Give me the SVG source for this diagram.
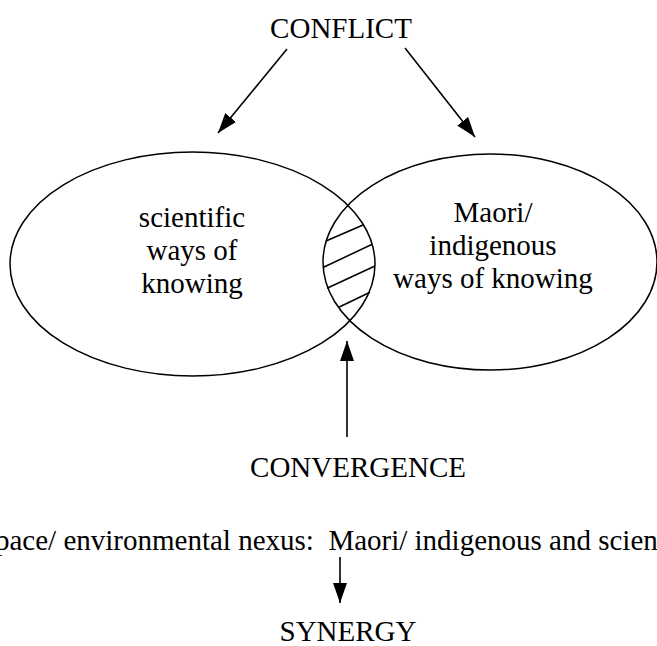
<svg xmlns="http://www.w3.org/2000/svg" width="657" height="646" viewBox="0 0 657 646">
<style>
text{font-family:'Liberation Serif','Times New Roman','DejaVu Serif',serif;font-size:29px;fill:#000;white-space:pre}
.c{text-anchor:middle}
.shape{fill:none;stroke:#000;stroke-width:1.5}
.arr{fill:none;stroke:#000;stroke-width:1.6}
.hatch{stroke:#000;stroke-width:1.5}
</style>
<defs>
<marker id="ah" markerUnits="userSpaceOnUse" markerWidth="20" markerHeight="14" refX="20" refY="7" orient="auto">
<path d="M0,0 L20,7 L0,14 z" fill="#000"/>
</marker>
</defs>
<rect width="657" height="646" fill="#fff"/>
<g id="scientific">
<ellipse class="shape" cx="192.5" cy="264" rx="182.5" ry="112"/>
<text class="c" x="192" y="227" font-family="Liberation Serif, serif">scientific</text>
<text class="c" x="192" y="260" font-family="Liberation Serif, serif">ways of</text>
<text class="c" x="192" y="293" font-family="Liberation Serif, serif">knowing</text>
</g>
<g id="maori">
<ellipse class="shape" cx="490" cy="262" rx="167" ry="108"/>
<text class="c" x="493" y="222" font-family="Liberation Serif, serif">Maori/</text>
<text class="c" x="493" y="255" font-family="Liberation Serif, serif">indigenous</text>
<text class="c" x="493" y="288" font-family="Liberation Serif, serif">ways of knowing</text>
</g>
<g id="overlap">
<line class="hatch" x1="326" y1="241" x2="363" y2="225"/>
<line class="hatch" x1="323" y1="267.5" x2="371.7" y2="244.5"/>
<line class="hatch" x1="327" y1="288.3" x2="375" y2="266"/>
<line class="hatch" x1="339.3" y1="307" x2="370" y2="292.2"/>
</g>
<g id="conflict"><text class="c" x="341" y="38" font-family="Liberation Serif, serif">CONFLICT</text></g>
<g id="convergence"><text class="c" x="358" y="477" font-family="Liberation Serif, serif">CONVERGENCE</text></g>
<g id="nexus"><text x="-5" y="550" font-family="Liberation Serif, serif">pace/ environmental nexus:  Maori/ indigenous and scien</text></g>
<g id="synergy"><text class="c" x="348" y="641" font-family="Liberation Serif, serif">SYNERGY</text></g>
<g id="connectors">
<line class="arr" x1="287" y1="49" x2="218" y2="133" marker-end="url(#ah)"/>
<line class="arr" x1="405" y1="48" x2="475" y2="137" marker-end="url(#ah)"/>
<line class="arr" x1="347" y1="437" x2="347" y2="341" marker-end="url(#ah)"/>
<line class="arr" x1="340" y1="557" x2="340" y2="603" marker-end="url(#ah)"/>
</g>
</svg>
